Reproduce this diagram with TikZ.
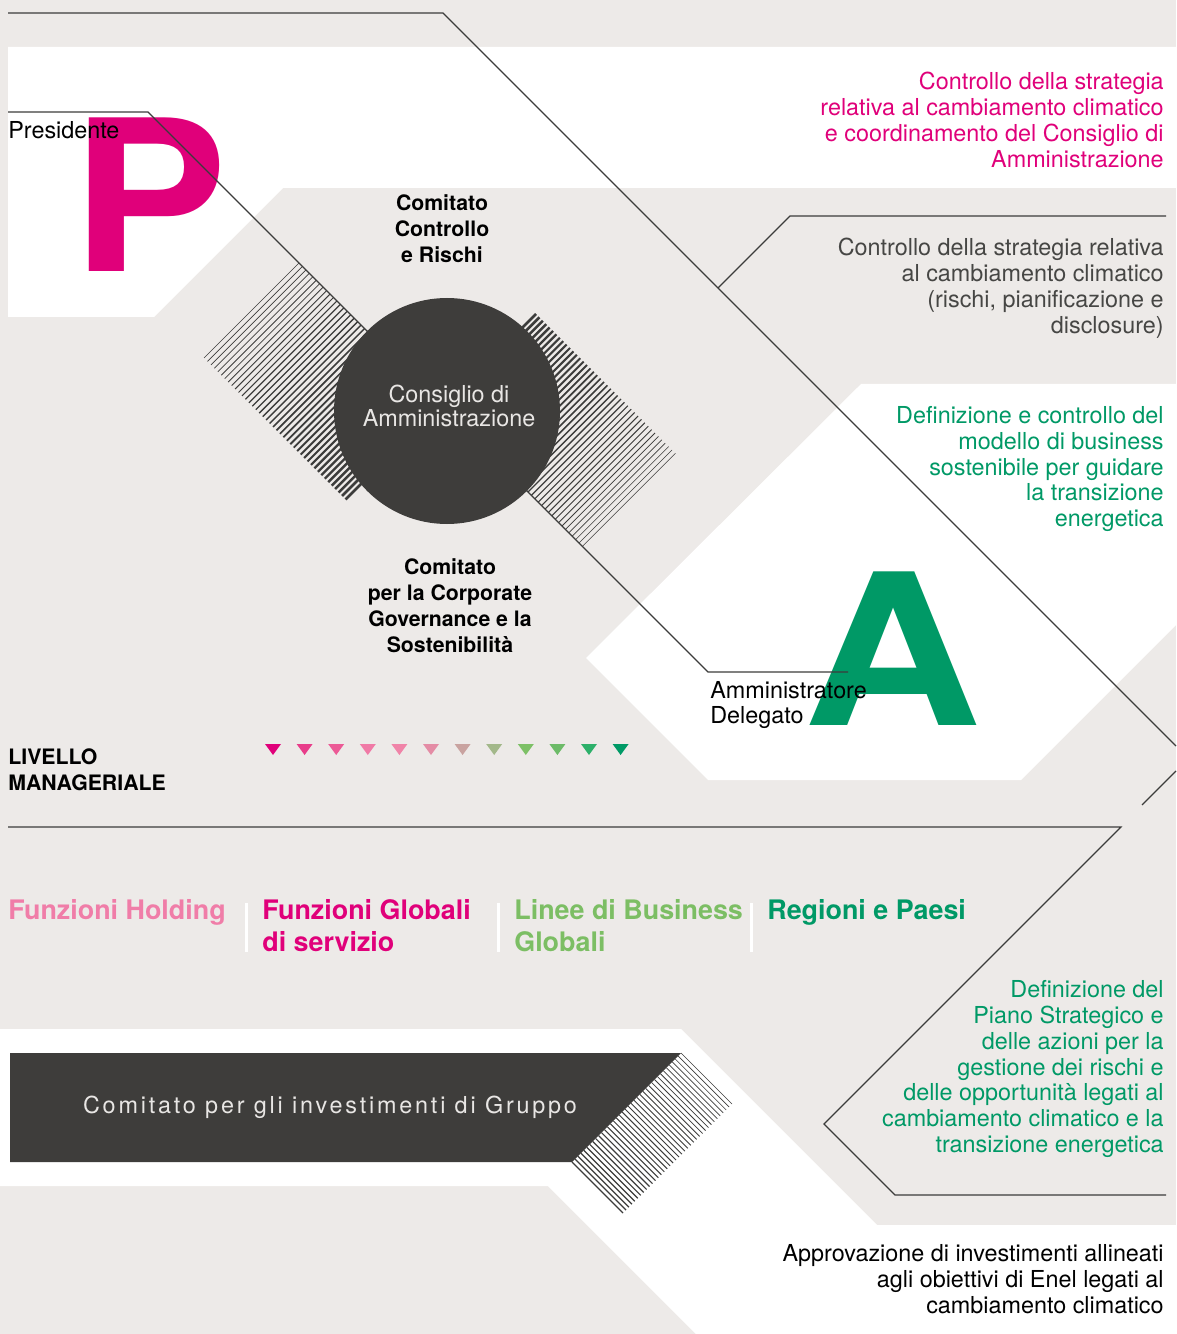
\documentclass[tikz,border=0pt]{standalone}
\usepackage{fontspec}
\setmainfont{TeX Gyre Heros}
\usepackage{tikz}
\usetikzlibrary{positioning,calc}

\definecolor{bggray}{RGB}{237,234,232}
\definecolor{boxgray}{RGB}{62,61,59}
\definecolor{linegray}{RGB}{60,60,59}
\definecolor{txtgray}{RGB}{70,70,68}
\definecolor{paletxt}{RGB}{232,230,228}
\definecolor{enelmag}{RGB}{224,0,122}
\definecolor{enelgreen}{RGB}{0,153,102}
\definecolor{holdpink}{RGB}{240,125,168}
\definecolor{bizgreen}{RGB}{124,190,100}
% arrow colours, magenta to green
\definecolor{triA}{RGB}{224,0,122}
\definecolor{triB}{RGB}{232,61,138}
\definecolor{triC}{RGB}{236,90,150}
\definecolor{triD}{RGB}{240,122,166}
\definecolor{triE}{RGB}{240,132,168}
\definecolor{triF}{RGB}{228,140,165}
\definecolor{triG}{RGB}{201,163,160}
\definecolor{triH}{RGB}{163,184,138}
\definecolor{triI}{RGB}{125,192,102}
\definecolor{triJ}{RGB}{109,187,104}
\definecolor{triK}{RGB}{45,176,106}
\definecolor{triL}{RGB}{0,154,102}

\newcommand{\bodyfont}{\fontsize{13.3pt}{14.75pt}\selectfont}
\newcommand{\boldlabel}{\fontsize{12.1pt}{14.75pt}\selectfont\bfseries}
\newcommand{\unitfont}{\fontsize{15.3pt}{18.1pt}\selectfont\bfseries}
\newcommand{\letterfont}{\fontsize{120pt}{120pt}\selectfont\bfseries}

\begin{document}
\begin{tikzpicture}[x=0.02cm, y=-0.02cm,
    leader/.style={draw=linegray, line width=0.65pt},
    rightnote/.style={anchor=east, align=right, inner sep=0pt, font=\bodyfont},
    unit/.style={anchor=north west, align=left, inner sep=0pt, font=\unitfont}]

    % Page and background bands
    \fill[bggray] (0,0) rectangle (1176,1334);
    \useasboundingbox (0,0) rectangle (1176,1334);
    \fill[white] (8,47) -- (1176,47) -- (1176,188) -- (283,188) -- (154,317) -- (8,317) -- cycle;
    \fill[white] (861,384) -- (1176,384) -- (1176,625) -- (1021,780) -- (708,780) -- (586,658) -- cycle;
    \fill[white] (0,1029) -- (681,1029) -- (877,1225) -- (1176,1225) -- (1176,1334) -- (696,1334) -- (548,1186) -- (0,1186) -- cycle;

    % Initials
    \node[anchor=base west, inner sep=0pt, text=enelmag, font=\letterfont] (bigP) at (71,272) {\scalebox{1.11}[1]{P}};
    \node[anchor=base west, inner sep=0pt, text=enelgreen, font=\letterfont] (bigA) at (803,725) {\scalebox{1.17}[1]{A}};

    % Hatching either side of the board
    \foreach \k in {0,...,41} {
        \pgfmathsetmacro{\px}{299+\k*3.45}
        \draw[linegray, line width={0.3pt+\k*0.03pt}] (\px,{\px-36}) -- ++(-95,95);
    }
    \foreach \k in {0,...,41} {
        \pgfmathsetmacro{\px}{443+\k*3.4}
        \draw[linegray, line width={1.5pt-\k*0.03pt}] (\px,{\px-36}) -- ++(93,-93);
    }

    % Investment committee band
    \fill[boxgray] (10,1053) -- (681,1053) -- (572,1162) -- (10,1162) -- cycle;
    \foreach \k in {0,...,37} {
        \pgfmathsetmacro{\d}{\k*109/37}
        \draw[linegray, line width={0.35pt+\k*0.01pt}] ({681-\d},{1053+\d}) -- ++(51,51);
    }
    \node[text=paletxt, inner sep=0pt, font={\bodyfont\addfontfeature{LetterSpace=12}}] (invest) at (330,1107) {Comitato per gli investimenti di Gruppo};

    % Leader lines
    \coordinate (topStart) at (8,13);
    \coordinate (topBend) at (443,13);
    \coordinate (topEnd) at (1176,746);
    \coordinate (presStart) at (8,112);
    \coordinate (presBend) at (148,112);
    \coordinate (ceoBend) at (708,672);
    \coordinate (ceoEnd) at (848,672);
    \coordinate (riskFoot) at (718,288);
    \coordinate (riskBend) at (790,216);
    \coordinate (riskEnd) at (1166,216);
    \coordinate (edgeIn) at (1176,771);
    \coordinate (edgeOut) at (1142,805);
    \coordinate (mgmtStart) at (8,827);
    \coordinate (mgmtBend) at (1121,827);
    \coordinate (mgmtTip) at (824,1124);
    \coordinate (mgmtFoot) at (895,1195);
    \coordinate (mgmtEnd) at (1166,1195);
    \draw[leader] (topStart) -- (topBend) -- (topEnd);
    \draw[leader] (presStart) -- (presBend) -- (ceoBend) -- (ceoEnd);
    \draw[leader] (riskFoot) -- (riskBend) -- (riskEnd);
    \draw[leader] (edgeIn) -- (edgeOut);
    \draw[leader] (mgmtStart) -- (mgmtBend) -- (mgmtTip) -- (mgmtFoot) -- (mgmtEnd);

    % Board of directors, over the leader line
    \node[circle, fill=boxgray, minimum size=226*0.02cm, inner sep=0pt] (board) at (447,411) {};
    \node[align=center, inner sep=0pt, text=paletxt, font={\fontsize{13.3pt}{13.8pt}\selectfont}] (boardName) at (449,406) {Consiglio di\\Amministrazione};

    % Labels
    \node[anchor=west, inner sep=0pt, font=\bodyfont] (pres) at (8,130) {Presidente};
    \node[align=center, inner sep=0pt, font=\boldlabel] (ccr) at (442,229) {Comitato\\Controllo\\e Rischi};
    \node[align=center, inner sep=0pt, font=\boldlabel] (cgs) at (450,606) {Comitato\\per la Corporate\\Governance e la\\Sostenibilità};
    \node[anchor=west, align=left, inner sep=0pt, font=\bodyfont] (ceo) at (710,705) {Amministratore\\Delegato};
    \node[anchor=west, align=left, inner sep=0pt, font=\boldlabel] (mgmt) at (8,770) {LIVELLO\\MANAGERIALE};

    \node[rightnote, text=enelmag] (presNote) at (1164,120) {Controllo della strategia\\relativa al cambiamento climatico\\e coordinamento del Consiglio di\\Amministrazione};
    \node[rightnote, text=txtgray] (riskNote) at (1164,288) {Controllo della strategia relativa\\al cambiamento climatico\\(rischi, pianificazione e\\disclosure)};
    \node[rightnote, text=enelgreen] (ceoNote) at (1164,469) {Definizione e controllo del\\modello di business\\sostenibile per guidare\\la transizione\\energetica};
    \node[rightnote, text=enelgreen] (planNote) at (1164,1069) {Definizione del\\Piano Strategico e\\delle azioni per la\\gestione dei rischi e\\delle opportunità legati al\\cambiamento climatico e la\\transizione energetica};
    \node[rightnote, text=black] (investNote) at (1164,1279) {Approvazione di investimenti allineati\\agli obiettivi di Enel legati al\\cambiamento climatico};

    % Cascade markers
    \foreach \col [count=\i from 0] in {triA,triB,triC,triD,triE,triF,triG,triH,triI,triJ,triK,triL}
        \fill[\col] ({273+31.6*\i-8},744) -- ({273+31.6*\i+8},744) -- ({273+31.6*\i},755) -- cycle;

    % Organisational units
    \node[unit, text=holdpink] (hold) at (8,899) {Funzioni Holding};
    \node[unit, text=enelmag] (glob) at (262,899) {Funzioni Globali\\di servizio};
    \node[unit, text=bizgreen] (gbl) at (514,899) {Linee di Business\\Globali};
    \node[unit, text=enelgreen] (reg) at (767,899) {Regioni e Paesi};
    \foreach \sx in {246,498,751}
        \fill[white] ({\sx-1.5},903) rectangle ({\sx+1.5},952);
\end{tikzpicture}
\end{document}
